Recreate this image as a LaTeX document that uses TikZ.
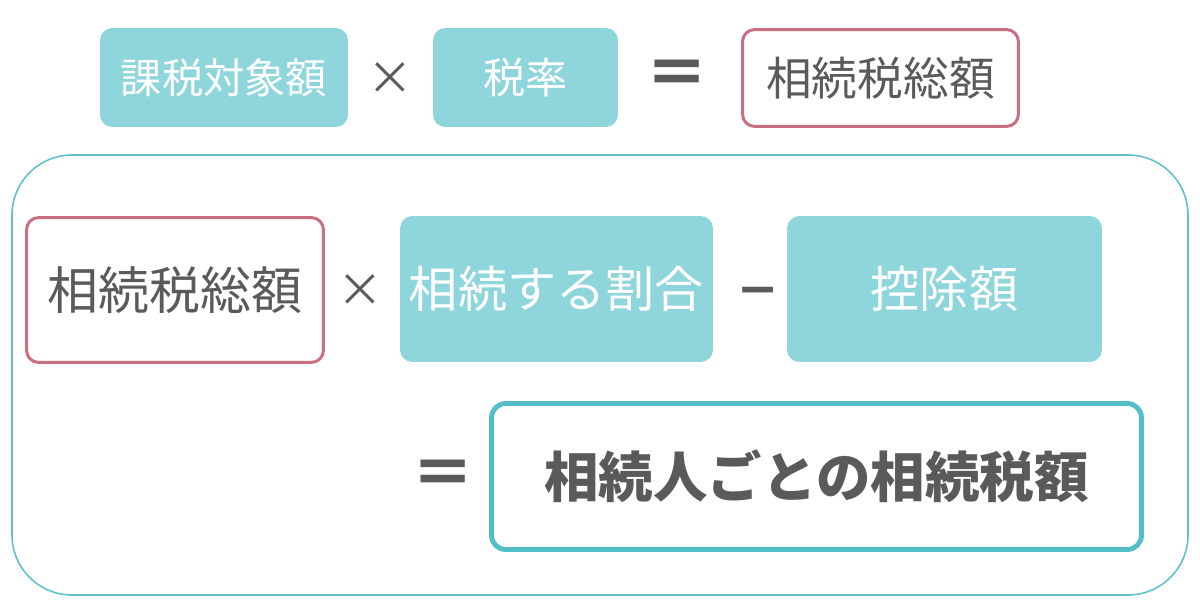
\documentclass[tikz,border=0pt]{standalone}
\usepackage{fontspec}
\setmainfont{Noto Sans CJK JP}
\newfontfamily\symfont{DejaVu Sans}
\usetikzlibrary{positioning}
\definecolor{boxteal}{HTML}{8ED6DC}
\definecolor{frameteal}{HTML}{5DC1CA}
\definecolor{resultteal}{HTML}{52BFC7}
\definecolor{totalpink}{HTML}{C96F80}
\definecolor{textgray}{HTML}{5A5A5A}

\begin{document}
\begin{tikzpicture}[
    x=0.02cm, y=-0.02cm,
    termbox/.style={
        rectangle, rounded corners=7pt, fill=boxteal, text=white,
        align=center, inner sep=0pt
    },
    totalbox/.style={
        draw=totalpink, line width=1.7pt, rectangle, rounded corners=7pt,
        fill=white, text=textgray, align=center, inner sep=0pt
    },
    resultbox/.style={
        draw=resultteal, line width=2.8pt, rectangle, rounded corners=8pt,
        fill=white, text=textgray, align=center, inner sep=0pt
    },
    opnode/.style={text=textgray, inner sep=0pt},
]
\useasboundingbox (0,0) rectangle (1200,615);

% upper formula
\node[termbox, minimum width=4.96cm, minimum height=1.98cm, font=\fontsize{23.5}{28}\selectfont] (base) at (224,77.5) {課税対象額};
\node[opnode, font=\fontsize{26}{30}\selectfont] (times1) at (390,79) {×};
\node[termbox, minimum width=3.7cm, minimum height=1.98cm, font=\fontsize{24}{28}\selectfont] (rate) at (525.5,77.5) {税率};
\node[opnode, font=\fontsize{36}{40}\selectfont\bfseries] (eq1) at (677,78) {＝};
\node[totalbox, minimum width=5.52cm, minimum height=1.94cm, font=\fontsize{26}{30}\selectfont] (total) at (880.5,78) {相続税総額};

% frame for the lower formula
\draw[frameteal, line width=0.9pt, rounded corners=1.2cm] (12,155) rectangle (1188,595);

\node[totalbox, minimum width=5.94cm, minimum height=2.9cm, font=\fontsize{29}{34}\selectfont] (total2) at (175,290) {相続税総額};
\node[opnode, font=\fontsize{26}{30}\selectfont] (times2) at (360,291) {×};
\node[termbox, minimum width=6.26cm, minimum height=2.92cm, font=\fontsize{28}{32}\selectfont] (share) at (556.5,289) {相続する割合};
\node[opnode, font=\symfont\bfseries\fontsize{28}{32}\selectfont] (minus) at (758,296) {\char"2212};
\node[termbox, minimum width=6.3cm, minimum height=2.92cm, font=\fontsize{28}{32}\selectfont] (deduct) at (944.5,289) {控除額};

\node[opnode, font=\fontsize{36}{40}\selectfont\bfseries] (eq2) at (443,478) {＝};
\node[resultbox, minimum width=13cm, minimum height=2.92cm, font=\fontsize{31}{36}\selectfont\bfseries] (result) at (816.5,476.5) {相続人ごとの相続税額};
\end{tikzpicture}
\end{document}
